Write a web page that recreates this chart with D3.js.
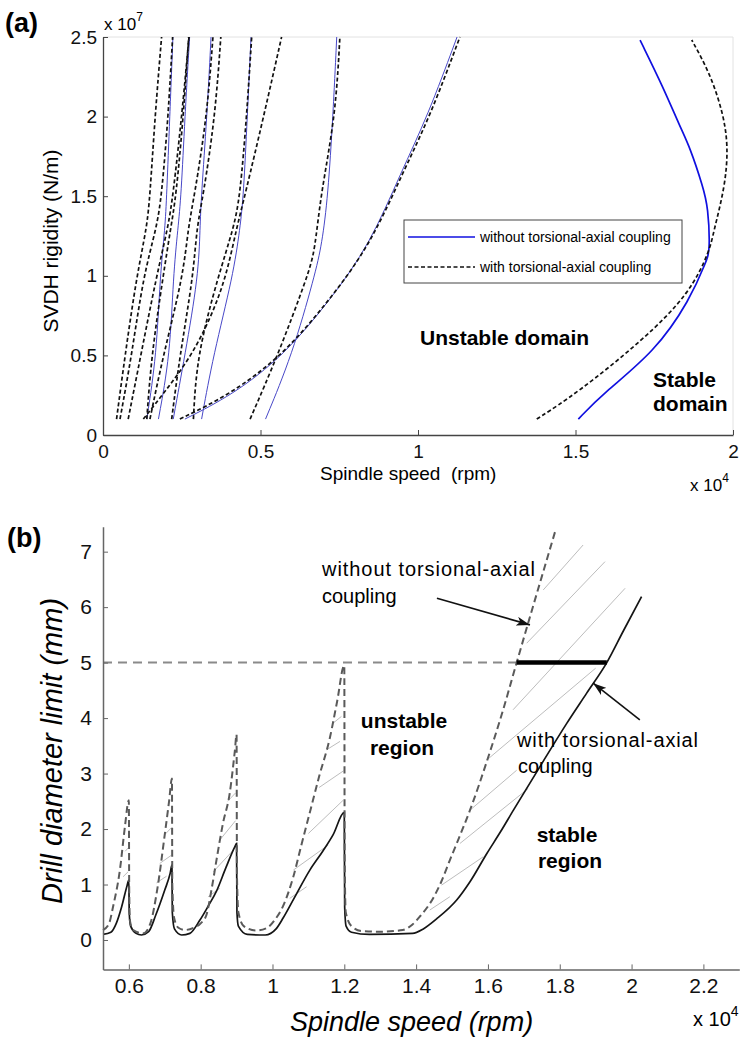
<!DOCTYPE html>
<html><head><meta charset="utf-8">
<script src="https://cdn.jsdelivr.net/npm/d3@7"></script>
<style>
body{margin:0;background:#fff}
svg{display:block;font-family:"Liberation Sans",Arial,sans-serif}
</style>
</head><body><script>
// ---------- panel (a): spindle speed (x1e4 rpm) vs SVDH rigidity (x1e7 N/m)
var aTicksX = [0, 0.5, 1, 1.5, 2];
var aTicksY = [0, 0.5, 1, 1.5, 2, 2.5];

// with torsional-axial coupling (black dashed lobes)
var aWith = [
  [[0.043,0.1],[0.070,0.5],[0.107,1.0],[0.139,1.3],[0.149,1.5],[0.165,2.0],[0.186,2.5]],
  [[0.054,0.1],[0.091,0.5],[0.128,1.0],[0.170,1.3],[0.186,1.5],[0.207,2.0],[0.221,2.5]],
  [[0.080,0.1],[0.120,0.5],[0.170,1.0],[0.206,1.3],[0.222,1.5],[0.250,2.0],[0.273,2.5]],
  [[0.139,0.1],[0.154,0.5],[0.191,1.0],[0.215,1.3],[0.232,1.5],[0.255,2.0],[0.272,2.5]],
  [[0.149,0.1],[0.191,0.5],[0.255,1.0],[0.270,1.3],[0.290,1.5],[0.330,2.0],[0.349,2.5]],
  [[0.218,0.1],[0.244,0.5],[0.287,1.0],[0.297,1.3],[0.318,1.5],[0.356,2.0],[0.374,2.5]],
  [[0.128,0.1],[0.200,0.28],[0.282,0.5],[0.345,0.75],[0.392,1.0],[0.424,1.3],[0.450,1.5],[0.510,2.0],[0.567,2.5]],
  [[0.287,0.1],[0.298,0.5],[0.366,1.0],[0.415,1.3],[0.435,1.5],[0.456,2.0],[0.472,2.5]],
  [[0.467,0.1],[0.555,0.5],[0.650,1.0],[0.673,1.16],[0.690,1.5],[0.738,2.0],[0.752,2.5]],
  [[0.244,0.1],[0.400,0.25],[0.571,0.5],[0.720,0.85],[0.850,1.2],[0.952,1.65],[1.038,2.0],[1.133,2.5]]
];
// without coupling (thin blue lobes)
var aWithout = [
  [[0.139,0.1],[0.170,0.5],[0.181,1.0],[0.197,1.3],[0.202,1.5],[0.212,2.0],[0.222,2.5]],
  [[0.176,0.1],[0.213,0.5],[0.223,1.0],[0.238,1.3],[0.248,1.5],[0.260,2.0],[0.275,2.5]],
  [[0.223,0.1],[0.260,0.5],[0.303,1.0],[0.308,1.3],[0.312,1.5],[0.330,2.0],[0.343,2.5]],
  [[0.313,0.1],[0.350,0.5],[0.413,1.0],[0.435,1.3],[0.446,1.5],[0.458,2.0],[0.470,2.5]],
  [[0.516,0.1],[0.600,0.5],[0.672,1.0],[0.695,1.2],[0.714,1.5],[0.730,2.0],[0.742,2.5]],
  [[0.260,0.1],[0.410,0.25],[0.575,0.5],[0.722,0.85],[0.848,1.2],[0.946,1.65],[1.030,2.0],[1.124,2.5]]
];
// stability boundary on the right
var stableWithout = [[1.509,0.1],[1.588,0.262],[1.752,0.523],[1.863,0.848],[1.917,1.099],[1.927,1.162],
  [1.921,1.432],[1.905,1.558],[1.863,1.809],[1.832,1.935],[1.778,2.186],[1.705,2.48]];
var stableWith = [[1.377,0.1],[1.504,0.262],[1.715,0.597],[1.863,0.890],[1.927,1.162],[1.937,1.267],
  [1.975,1.560],[1.985,1.811],[1.969,2.021],[1.927,2.272],[1.869,2.481]];

// ---------- panel (b): spindle speed (x1e4 rpm) vs drill diameter limit (mm)
var bTicksX = [0.6, 0.8, 1, 1.2, 1.4, 1.6, 1.8, 2, 2.2];
var bTicksY = [0, 1, 2, 3, 4, 5, 6, 7];

var bWithout = [[0.528,0.18],[0.545,0.3],[0.556,0.6],[0.575,1.26],[0.589,2.04],[0.600,2.52],[0.601,0.9],[0.603,0.35],
  [0.612,0.18],[0.640,0.12],[0.660,0.3],[0.680,0.95],[0.700,1.9],[0.712,2.5],[0.720,2.91],[0.721,1.0],[0.726,0.4],
  [0.738,0.22],[0.756,0.18],[0.780,0.22],[0.800,0.3],[0.816,0.45],[0.830,0.9],[0.844,1.44],[0.862,2.1],[0.881,2.65],
  [0.895,3.4],[0.900,3.7],[0.901,1.2],[0.905,0.5],[0.920,0.25],[0.955,0.17],[0.985,0.22],[1.005,0.35],[1.030,0.62],
  [1.058,1.14],[1.080,1.7],[1.104,2.3],[1.130,2.95],[1.160,3.65],[1.180,4.3],[1.200,4.95],[1.201,1.5],[1.204,0.5],
  [1.220,0.25],[1.250,0.16],[1.300,0.15],[1.363,0.18],[1.390,0.28],[1.410,0.42],[1.447,0.75],[1.470,1.05],
  [1.494,1.44],[1.520,1.85],[1.550,2.34],[1.600,3.28],[1.640,4.10],[1.680,5.0],[1.715,5.78],[1.750,6.55],[1.787,7.36]];
var bWith = [[0.528,0.10],[0.550,0.14],[0.565,0.3],[0.580,0.6],[0.595,0.98],[0.600,1.08],[0.601,0.5],[0.605,0.25],
  [0.620,0.12],[0.635,0.09],[0.655,0.15],[0.675,0.45],[0.700,0.9],[0.715,1.2],[0.720,1.35],[0.721,0.5],[0.727,0.2],
  [0.747,0.09],[0.770,0.12],[0.798,0.36],[0.820,0.6],[0.844,0.88],[0.870,1.3],[0.895,1.68],[0.900,1.74],[0.901,0.5],
  [0.905,0.25],[0.930,0.1],[0.980,0.09],[1.010,0.2],[1.030,0.4],[1.060,0.75],[1.104,1.26],[1.140,1.6],[1.169,1.9],
  [1.200,2.3],[1.201,0.6],[1.205,0.25],[1.220,0.14],[1.270,0.1],[1.390,0.12],[1.420,0.2],[1.457,0.38],[1.513,0.72],
  [1.550,1.05],[1.597,1.56],[1.635,1.95],[1.671,2.34],[1.750,3.18],[1.819,3.90],[1.875,4.45],[1.931,5.0],
  [1.977,5.57],[2.028,6.19]];
// grey hatch between the two limits: [x1, y1, x2, y2]
var bHatch = [
  [0.584,1.14,0.598,1.23],[0.590,1.60,0.598,1.66],
  [0.677,1.03,0.705,1.15],[0.686,1.38,0.719,1.53],[0.700,1.90,0.718,2.02],
  [0.821,0.78,0.853,0.93],[0.835,1.23,0.891,1.62],[0.853,1.80,0.897,2.15],[0.875,2.50,0.897,2.65],
  [1.048,0.75,1.095,0.96],[1.058,1.26,1.155,1.71],[1.100,1.92,1.197,2.52],[1.130,2.75,1.198,3.05],
  [1.151,3.43,1.188,3.58],[1.169,3.91,1.192,4.03],
  [1.438,0.54,1.494,0.78],[1.471,0.99,1.587,1.50],[1.522,1.74,1.712,2.73],[1.550,2.34,1.680,3.06],
  [1.596,3.24,1.900,4.90],[1.670,4.15,1.982,6.34],[1.708,5.35,1.926,6.82],[1.754,6.31,1.865,7.12]
];
var bLimit = 5;              // diameter limit line
var bLimitSpan = [1.680, 1.931];

var svg = d3.select('body').append('svg').attr('width', 740).attr('height', 1039);

// ================= panel (a)
var xA = d3.scaleLinear().domain([0, 2]).range([103, 733]);
var yA = d3.scaleLinear().domain([0, 2.5]).range([435, 37]);
var lineA = d3.line().x(function(d) { return xA(d[0]); }).y(function(d) { return yA(d[1]); })
  .curve(d3.curveBasis);

var ga = svg.append('g');
// faint box top / right
ga.append('path').attr('d', 'M' + xA(0) + ',' + yA(2.5) + 'H' + xA(2) + 'V' + yA(0))
  .attr('fill', 'none').attr('stroke', '#e2e2e2');

ga.selectAll('.blue').data(aWithout).enter().append('path')
  .attr('d', lineA).attr('fill', 'none').attr('stroke', '#4848c8').attr('stroke-width', 1);
ga.append('path').attr('d', lineA(stableWithout)).attr('fill', 'none')
  .attr('stroke', '#1010e0').attr('stroke-width', 1.7);
ga.selectAll('.black').data(aWith).enter().append('path')
  .attr('d', lineA).attr('fill', 'none').attr('stroke', '#111').attr('stroke-width', 1.7)
  .attr('stroke-dasharray', '4,2.5');
ga.append('path').attr('d', lineA(stableWith)).attr('fill', 'none')
  .attr('stroke', '#111').attr('stroke-width', 1.7).attr('stroke-dasharray', '4,2.5');

var axA = ga.append('g').attr('transform', 'translate(0,' + yA(0) + ')')
  .call(d3.axisBottom(xA).tickValues(aTicksX).tickFormat(d3.format('')).tickSize(-5).tickSizeOuter(0));
axA.selectAll('text').attr('y', 23).attr('dy', 0);
var ayA = ga.append('g').attr('transform', 'translate(' + xA(0) + ',0)')
  .call(d3.axisLeft(yA).tickValues(aTicksY).tickFormat(d3.format('')).tickSize(-5).tickSizeOuter(0));
ayA.selectAll('text').attr('x', -6);
[axA, ayA].forEach(function(a) {
  a.select('.domain').attr('stroke', '#444').attr('stroke-width', 1.3);
  a.selectAll('line').attr('stroke', '#444');
  a.selectAll('text').attr('font-size', 19).attr('fill', '#111').attr('font-family', null);
});

ga.append('text').attr('x', 5).attr('y', 32).attr('font-size', 27).attr('font-weight', 'bold').text('(a)');
var e7 = ga.append('text').attr('x', 104).attr('y', 30).attr('font-size', 17);
e7.append('tspan').text('x 10');
e7.append('tspan').attr('dy', -9).attr('font-size', 12).text('7');
var e4a = ga.append('text').attr('x', 690).attr('y', 491).attr('font-size', 17);
e4a.append('tspan').text('x 10');
e4a.append('tspan').attr('dy', -9).attr('font-size', 12).text('4');
ga.append('text').attr('x', 320).attr('y', 480).attr('font-size', 19)
  .attr('xml:space', 'preserve').text('Spindle speed  (rpm)');
ga.append('text').attr('transform', 'translate(58,241) rotate(-90)').attr('text-anchor', 'middle')
  .attr('font-size', 21).text('SVDH rigidity (N/m)');

// legend
var lg = ga.append('g');
lg.append('rect').attr('x', 404).attr('y', 220).attr('width', 278).attr('height', 63)
  .attr('fill', '#fff').attr('stroke', '#444');
lg.append('line').attr('x1', 408).attr('x2', 475).attr('y1', 237).attr('y2', 237)
  .attr('stroke', '#1010e0').attr('stroke-width', 1.7);
lg.append('line').attr('x1', 408).attr('x2', 475).attr('y1', 267).attr('y2', 267)
  .attr('stroke', '#111').attr('stroke-width', 1.7).attr('stroke-dasharray', '4,2.5');
lg.append('text').attr('x', 480).attr('y', 242).attr('font-size', 14).text('without torsional-axial coupling');
lg.append('text').attr('x', 480).attr('y', 272).attr('font-size', 14).text('with torsional-axial coupling');

ga.append('text').attr('x', 420).attr('y', 345).attr('font-size', 21).attr('font-weight', 'bold').text('Unstable domain');
ga.append('text').attr('x', 653).attr('y', 387).attr('font-size', 21).attr('font-weight', 'bold').text('Stable');
ga.append('text').attr('x', 653).attr('y', 411).attr('font-size', 21).attr('font-weight', 'bold').text('domain');

// ================= panel (b)
var xB = d3.scaleLinear().domain([0.528, 2.3]).range([103, 739.3]);
var yB = d3.scaleLinear().domain([-0.53, 7.45]).range([969.4, 526.7]);
var lineB = d3.line().x(function(d) { return xB(d[0]); }).y(function(d) { return yB(d[1]); })
  .curve(d3.curveMonotoneX);

var gb = svg.append('g');
gb.selectAll('.hatch').data(bHatch).enter().append('line')
  .attr('x1', function(d) { return xB(d[0]); }).attr('y1', function(d) { return yB(d[1]); })
  .attr('x2', function(d) { return xB(d[2]); }).attr('y2', function(d) { return yB(d[3]); })
  .attr('stroke', '#bdbdbd').attr('stroke-width', 1);

gb.append('line').attr('x1', xB(0.528)).attr('x2', xB(bLimitSpan[0]))
  .attr('y1', yB(bLimit)).attr('y2', yB(bLimit))
  .attr('stroke', '#8a8a8a').attr('stroke-width', 2).attr('stroke-dasharray', '9,6');
gb.append('path').attr('d', lineB(bWith)).attr('fill', 'none').attr('stroke', '#151515').attr('stroke-width', 1.7);
gb.append('path').attr('d', lineB(bWithout)).attr('fill', 'none').attr('stroke', '#5a5a5a')
  .attr('stroke-width', 2).attr('stroke-dasharray', '7,4');
gb.append('line').attr('x1', xB(bLimitSpan[0])).attr('x2', xB(bLimitSpan[1]))
  .attr('y1', yB(bLimit)).attr('y2', yB(bLimit)).attr('stroke', '#000').attr('stroke-width', 4.5);

var axB = gb.append('g').attr('transform', 'translate(0,' + yB(-0.53) + ')')
  .call(d3.axisBottom(xB).tickValues(bTicksX).tickFormat(d3.format('')).tickSize(-5).tickSizeOuter(0));
axB.selectAll('text').attr('y', 24).attr('dy', 0);
var ayB = gb.append('g').attr('transform', 'translate(' + xB(0.528) + ',0)')
  .call(d3.axisLeft(yB).tickValues(bTicksY).tickSize(-5).tickSizeOuter(0));
ayB.selectAll('text').attr('x', -11);
[axB, ayB].forEach(function(a) {
  a.select('.domain').attr('stroke', '#666').attr('stroke-width', 1.5);
  a.selectAll('line').attr('stroke', '#666');
  a.selectAll('text').attr('font-size', 21).attr('fill', '#111').attr('font-family', null);
});

gb.append('text').attr('x', 7).attr('y', 547).attr('font-size', 27).attr('font-weight', 'bold').text('(b)');
gb.append('text').attr('x', 290).attr('y', 1031).attr('font-size', 27).attr('font-style', 'italic')
  .text('Spindle speed (rpm)');
var e4b = gb.append('text').attr('x', 693).attr('y', 1026).attr('font-size', 20);
e4b.append('tspan').text('x 10');
e4b.append('tspan').attr('dy', -10).attr('font-size', 14).text('4');
gb.append('text').attr('transform', 'translate(62,751) rotate(-90)').attr('text-anchor', 'middle')
  .attr('font-size', 29).attr('font-style', 'italic').text('Drill diameter limit (mm)');

gb.append('text').attr('x', 322).attr('y', 576).attr('font-size', 20)
  .attr('textLength', 213).attr('lengthAdjust', 'spacing').text('without torsional-axial');
gb.append('text').attr('x', 322).attr('y', 603).attr('font-size', 20).text('coupling');
gb.append('text').attr('x', 517).attr('y', 747).attr('font-size', 20)
  .attr('textLength', 181).attr('lengthAdjust', 'spacing').text('with torsional-axial');
gb.append('text').attr('x', 518).attr('y', 773).attr('font-size', 20).text('coupling');
gb.append('text').attr('x', 404).attr('y', 728).attr('font-size', 21).attr('font-weight', 'bold')
  .attr('text-anchor', 'middle').text('unstable');
gb.append('text').attr('x', 402).attr('y', 755).attr('font-size', 21).attr('font-weight', 'bold')
  .attr('text-anchor', 'middle').text('region');
gb.append('text').attr('x', 567).attr('y', 842).attr('font-size', 21).attr('font-weight', 'bold')
  .attr('text-anchor', 'middle').text('stable');
gb.append('text').attr('x', 570).attr('y', 868).attr('font-size', 21).attr('font-weight', 'bold')
  .attr('text-anchor', 'middle').text('region');

// arrows
svg.append('defs').append('marker').attr('id', 'ah').attr('viewBox', '0 0 12 8')
  .attr('refX', 12).attr('refY', 4).attr('markerWidth', 14).attr('markerHeight', 9)
  .attr('markerUnits', 'userSpaceOnUse').attr('orient', 'auto')
  .append('path').attr('d', 'M0,0L12,4L0,8L3,4Z').attr('fill', '#111');
var arrows = [[1.458, 6.16, 1.717, 5.68], [2.023, 3.97, 1.893, 4.63]];
gb.selectAll('.arrow').data(arrows).enter().append('line')
  .attr('x1', function(d) { return xB(d[0]); }).attr('y1', function(d) { return yB(d[1]); })
  .attr('x2', function(d) { return xB(d[2]); }).attr('y2', function(d) { return yB(d[3]); })
  .attr('stroke', '#111').attr('stroke-width', 1.6).attr('marker-end', 'url(#ah)');
</script></body></html>
